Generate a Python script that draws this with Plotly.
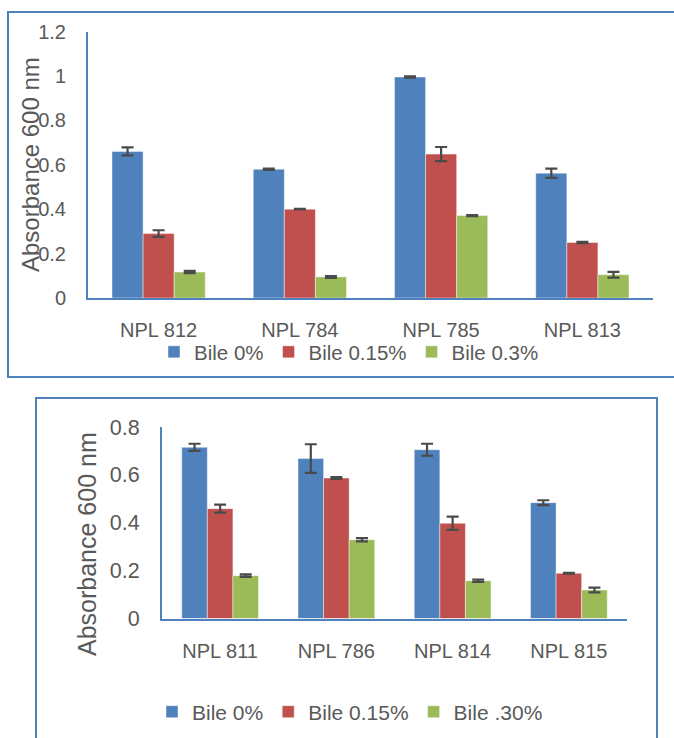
import plotly.graph_objects as go

# ---------------- data ----------------
top_categories = ["NPL 812", "NPL 784", "NPL 785", "NPL 813"]
top_bile0 = [0.66, 0.58, 0.995, 0.562]
top_bile0_err = [0.018, 0.003, 0.003, 0.021]
top_bile015 = [0.29, 0.40, 0.648, 0.25]
top_bile015_err = [0.015, 0.001, 0.032, 0.003]
top_bile03 = [0.117, 0.095, 0.371, 0.105]
top_bile03_err = [0.005, 0.004, 0.002, 0.013]
top_series_names = ["Bile 0%", "Bile 0.15%", "Bile 0.3%"]

bot_categories = ["NPL 811", "NPL 786", "NPL 814", "NPL 815"]
bot_bile0 = [0.715, 0.668, 0.705, 0.484]
bot_bile0_err = [0.015, 0.06, 0.025, 0.01]
bot_bile015 = [0.459, 0.587, 0.398, 0.189]
bot_bile015_err = [0.017, 0.004, 0.028, 0.002]
bot_bile03 = [0.179, 0.329, 0.158, 0.119]
bot_bile03_err = [0.005, 0.007, 0.005, 0.01]
bot_series_names = ["Bile 0%", "Bile 0.15%", "Bile .30%"]

y_title = "Absorbance 600 nm"

# ---------------- style ----------------
W, H = 674, 738
colors = ["#4F81BD", "#C0504D", "#9BBB59"]
axis_blue = "#4F81BD"
text_gray = "#595959"
err_color = "#4A4A4A"
FONT = "Liberation Sans, Arial, sans-serif"


def px_x(x):
    return x / W


def px_y(y):
    return (H - y) / H


fig = go.Figure()

top_vals = [top_bile0, top_bile015, top_bile03]
top_errs = [top_bile0_err, top_bile015_err, top_bile03_err]
for name, vals, errs, c in zip(top_series_names, top_vals, top_errs, colors):
    fig.add_trace(go.Bar(
        x=top_categories, y=vals, name=name,
        marker=dict(color=c, line=dict(color="rgba(255,255,255,0.55)", width=0.8)),
        error_y=dict(type="data", array=errs, visible=True, color=err_color,
                     thickness=2.2, width=6),
        xaxis="x", yaxis="y", legend="legend", offsetgroup=name,
    ))

bot_vals = [bot_bile0, bot_bile015, bot_bile03]
bot_errs = [bot_bile0_err, bot_bile015_err, bot_bile03_err]
for name, vals, errs, c in zip(bot_series_names, bot_vals, bot_errs, colors):
    fig.add_trace(go.Bar(
        x=bot_categories, y=vals, name=name,
        marker=dict(color=c, line=dict(color="rgba(255,255,255,0.55)", width=0.8)),
        error_y=dict(type="data", array=errs, visible=True, color=err_color,
                     thickness=2.2, width=6),
        xaxis="x2", yaxis="y2", legend="legend2", offsetgroup=name + "_b",
    ))

common_x = dict(showgrid=False, showline=True, linecolor=axis_blue, linewidth=2,
                ticks="", tickfont=dict(family=FONT, size=20, color=text_gray),
                zeroline=False, fixedrange=True, automargin=False)
common_y = dict(showgrid=False, showline=True, linecolor=axis_blue, linewidth=2,
                ticks="", zeroline=False, fixedrange=True, automargin=False,
                ticklabelstandoff=16)

fig.update_layout(
    width=W, height=H,
    margin=dict(l=0, r=0, t=0, b=0, pad=0, autoexpand=False),
    paper_bgcolor="white", plot_bgcolor="white",
    barmode="group", bargap=0.34, bargroupgap=0,
    showlegend=True,
    font=dict(family=FONT, color=text_gray),
    xaxis=dict(domain=[px_x(88), px_x(653)], anchor="y", ticklabelstandoff=13,
               **common_x),
    yaxis=dict(domain=[px_y(298), px_y(31.5)], anchor="x", range=[0, 1.2],
               tickvals=[0, 0.2, 0.4, 0.6, 0.8, 1, 1.2],
               ticktext=["0", "0.2", "0.4", "0.6", "0.8", "1", "1.2"],
               tickfont=dict(family=FONT, size=20, color=text_gray), **common_y),
    xaxis2=dict(domain=[px_x(162), px_x(627)], anchor="y2", ticklabelstandoff=13,
                **common_x),
    yaxis2=dict(domain=[px_y(618.5), px_y(427)], anchor="x2", range=[0, 0.8],
                tickvals=[0, 0.2, 0.4, 0.6, 0.8],
                ticktext=["0", "0.2", "0.4", "0.6", "0.8"],
                tickfont=dict(family=FONT, size=21.5, color=text_gray), **common_y),
    legend=dict(orientation="h", x=px_x(154), xanchor="left",
                y=px_y(352), yanchor="middle",
                font=dict(family=FONT, size=20.5, color=text_gray),
                bgcolor="rgba(0,0,0,0)", traceorder="normal"),
    legend2=dict(orientation="h", x=px_x(152), xanchor="left",
                 y=px_y(712), yanchor="middle",
                 font=dict(family=FONT, size=21, color=text_gray),
                 bgcolor="rgba(0,0,0,0)", traceorder="normal"),
    shapes=[
        dict(type="rect", xref="paper", yref="paper",
             x0=px_x(8), x1=px_x(690), y0=px_y(377), y1=px_y(12),
             line=dict(color=axis_blue, width=2), fillcolor="rgba(0,0,0,0)", layer="below"),
        dict(type="rect", xref="paper", yref="paper",
             x0=px_x(36), x1=px_x(657), y0=px_y(760), y1=px_y(398),
             line=dict(color=axis_blue, width=2), fillcolor="rgba(0,0,0,0)", layer="below"),
    ],
    annotations=[
        dict(text=y_title, xref="paper", yref="paper", x=px_x(30), y=px_y(165),
             xanchor="center", yanchor="middle", textangle=-90, showarrow=False,
             font=dict(family=FONT, size=24, color=text_gray)),
        dict(text=y_title, xref="paper", yref="paper", x=px_x(87), y=px_y(544),
             xanchor="center", yanchor="middle", textangle=-90, showarrow=False,
             font=dict(family=FONT, size=25, color=text_gray)),
    ],
)

fig.write_html(
    "out.html",
    config={"displayModeBar": False},
    post_script="document.body.style.margin='0';document.body.style.overflow='hidden';",
)
